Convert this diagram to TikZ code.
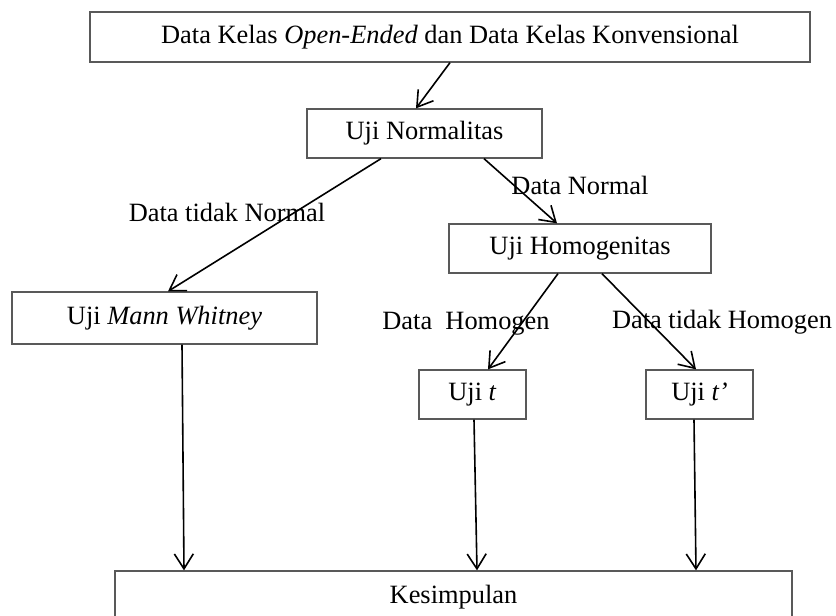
\documentclass[tikz,border=0pt]{standalone}
\usepackage{fontspec}
\setmainfont{Liberation Serif}
\usepackage{tikz}
\usetikzlibrary{arrows.meta, positioning}

\begin{document}
\begin{tikzpicture}[x=1pt, y=-1pt, font=\fontsize{26.4}{30}\selectfont,
    >={Straight Barb[length=15pt, width=19pt, line width=1.6pt]},
    box/.style={draw=black!65, line width=1.3pt, inner sep=0pt},
    lbl/.style={inner sep=0pt},
    flow/.style={->, line width=1.6pt}]
  \useasboundingbox (0,0) rectangle (836,616);
  \clip (0,0) rectangle (836,616);
  % boxes
  \node[box, minimum width=720pt, minimum height=50pt] (top) at (450,37)
        {Data Kelas \textit{Open-Ended} dan Data Kelas Konvensional};
  \node[box, minimum width=235pt, minimum height=49pt] (norm) at (424.5,133.5) {Uji Normalitas};
  \node[box, minimum width=262pt, minimum height=49pt] (homog) at (580,248.5) {Uji Homogenitas};
  \node[box, minimum width=305pt, minimum height=52pt] (mann) at (164.5,318) {Uji \textit{Mann Whitney}};
  \node[box, minimum width=107pt, minimum height=49pt] (ujit) at (472.5,394.5) {Uji \textit{t}};
  \node[box, minimum width=107pt, minimum height=49pt] (ujitp) at (699.5,394.5) {Uji \textit{t’}};
  \node[box, minimum width=677pt, minimum height=52pt] (kes) at (453.5,597) {Kesimpulan};
  % labels
  \node[lbl] (tnorm) at (227,212) {Data tidak Normal};
  \node[lbl] (ynorm) at (580,185) {Data Normal};
  \node[lbl] (yhom) at (466,324) {Data\ \ Homogen};
  \node[lbl] (thom) at (722,322) {Data tidak Homogen};
  % arrows
  \draw[flow] (top.south) -- ([xshift=-8.5pt]norm.north);
  \draw[flow] ([xshift=-43.5pt]norm.south) -- ([xshift=3.5pt]mann.north);
  \draw[flow] ([xshift=59.5pt]norm.south) -- ([xshift=-23pt]homog.north);
  \draw[flow] ([xshift=-22pt]homog.south) -- ([xshift=15.5pt]ujit.north);
  \draw[flow] ([xshift=22pt]homog.south) -- ([xshift=-3.5pt]ujitp.north);
  \draw[flow] ([xshift=17.5pt]mann.south) -- ([xshift=-269.5pt]kes.north);
  \draw[flow] ([xshift=1.5pt]ujit.south) -- ([xshift=23.5pt]kes.north);
  \draw[flow] ([xshift=-5.5pt]ujitp.south) -- ([xshift=242.5pt]kes.north);
\end{tikzpicture}
\end{document}
